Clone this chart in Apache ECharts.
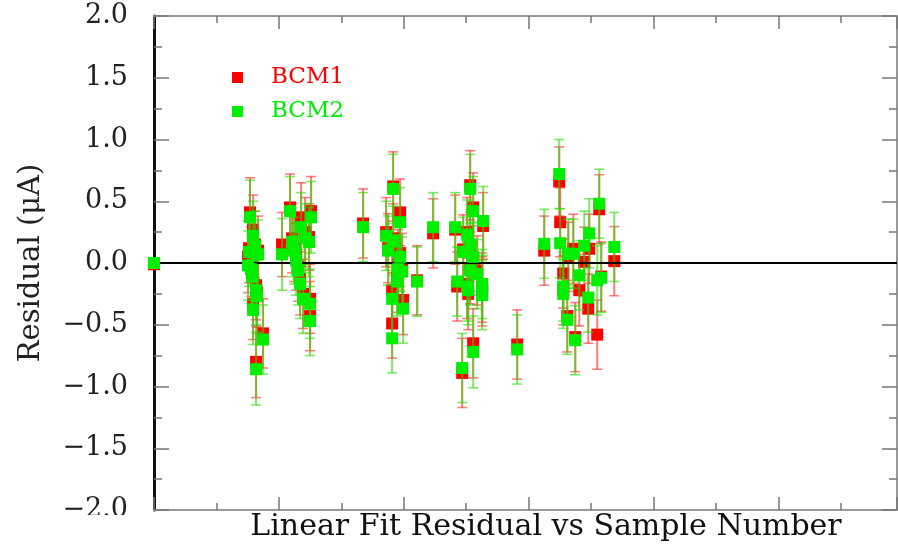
<!DOCTYPE html>
<html>
<head>
<meta charset="utf-8">
<script src="https://cdn.jsdelivr.net/npm/echarts@6/dist/echarts.min.js"></script>
<style>html,body{margin:0;padding:0;background:#fff}#c{width:898px;height:547px}</style>
</head>
<body>
<div id="c"></div>
<script>
const sampleNo = [
  0, 15.06, 15.38, 15.87, 16.19, 16.67, 15.71, 16.35, 16.51, 15.87, 17.47, 16.35, 15.22, 15.54,
  20.51, 21.79, 22.12, 22.44, 23.56, 23.08, 23.40, 23.88, 25.16, 24.84, 25.00, 25.00, 22.76, 24.20,
  33.49, 38.30, 39.42, 37.18, 38.30, 37.50, 39.42, 39.10, 39.74, 38.94, 38.14, 39.90, 38.14, 42.15, 44.71,
  48.24, 48.56, 50.64, 51.12, 52.72, 50.16, 50.64, 49.52, 51.12, 50.64, 51.76, 50.16, 52.56, 50.32, 52.56, 51.12, 49.36, 58.17,
  62.50, 64.90, 65.06, 65.54, 65.54, 66.19, 66.35, 67.15, 67.47, 68.11, 68.91, 69.71, 69.55, 70.99, 71.31, 71.63, 73.72
];
const bcm1 = [
  -0.01, 0.05, 0.41, 0.27, 0.15, 0.10, -0.08, -0.18, -0.24, -0.33, -0.57, -0.80, 0.12, 0.01,
  0.15, 0.45, 0.20, 0.12, 0.37, -0.03, -0.13, -0.25, 0.42, 0.21, -0.29, -0.43, 0.05, 0.25,
  0.32, 0.62, 0.41, 0.25, 0.20, 0.12, 0.08, -0.01, -0.04, -0.12, -0.22, -0.30, -0.49, -0.14, 0.24,
  0.27, -0.19, 0.63, 0.45, 0.30, 0.25, 0.13, 0.11, 0.02, -0.04, -0.06, -0.17, -0.20, -0.25, -0.23, -0.65, -0.89, -0.66,
  0.10, 0.66, 0.33, -0.085, -0.22, -0.43, 0.05, 0.115, -0.60, -0.22, 0.01, 0.115, -0.37, -0.58, 0.435, -0.11, 0.015
];
const bcm2 = [
  0.00, -0.02, 0.37, 0.22, 0.14, 0.07, -0.11, -0.22, -0.27, -0.38, -0.62, -0.86, 0.09, -0.05,
  0.07, 0.42, 0.17, 0.10, 0.29, -0.06, -0.17, -0.29, 0.37, 0.17, -0.33, -0.47, 0.02, 0.20,
  0.29, 0.60, 0.33, 0.22, 0.18, 0.10, 0.05, -0.05, -0.07, -0.15, -0.29, -0.37, -0.61, -0.15, 0.29,
  0.29, -0.15, 0.60, 0.42, 0.34, 0.23, 0.15, 0.09, 0.05, -0.06, -0.09, -0.19, -0.17, -0.22, -0.26, -0.72, -0.85, -0.70,
  0.155, 0.72, 0.16, -0.19, -0.25, -0.46, 0.075, 0.075, -0.625, -0.10, 0.14, 0.24, -0.28, -0.14, 0.48, -0.12, 0.13
];
const bcm1Err = [
  0, 0.29, 0.28, 0.28, 0.27, 0.28, 0.29, 0.28, 0.28, 0.29, 0.28, 0.29, 0.28, 0.28,
  0.26, 0.27, 0.28, 0.27, 0.28, 0.28, 0.29, 0.28, 0.28, 0.27, 0.28, 0.28, 0.27, 0.28,
  0.28, 0.28, 0.27, 0.28, 0.28, 0.28, 0.27, 0.28, 0.28, 0.28, 0.29, 0.28, 0.28, 0.28, 0.28,
  0.28, 0.28, 0.28, 0.28, 0.27, 0.28, 0.28, 0.28, 0.28, 0.29, 0.28, 0.28, 0.28, 0.29, 0.28, 0.28, 0.28, 0.28,
  0.28, 0.28, 0.28, 0.28, 0.28, 0.29, 0.28, 0.28, 0.28, 0.29, 0.28, 0.28, 0.28, 0.28, 0.28, 0.28, 0.28
];
const bcm2Err = [
  0, 0.28, 0.30, 0.28, 0.28, 0.28, 0.28, 0.28, 0.29, 0.28, 0.28, 0.29, 0.28, 0.28,
  0.29, 0.28, 0.28, 0.27, 0.28, 0.28, 0.28, 0.28, 0.29, 0.28, 0.28, 0.28, 0.28, 0.28,
  0.28, 0.28, 0.28, 0.28, 0.28, 0.28, 0.28, 0.28, 0.28, 0.28, 0.28, 0.28, 0.28, 0.28, 0.28,
  0.28, 0.28, 0.28, 0.28, 0.28, 0.28, 0.28, 0.28, 0.28, 0.28, 0.28, 0.28, 0.28, 0.28, 0.28, 0.29, 0.28, 0.28,
  0.28, 0.28, 0.28, 0.28, 0.28, 0.28, 0.28, 0.28, 0.28, 0.28, 0.28, 0.28, 0.28, 0.28, 0.28, 0.28, 0.28
];
const yTicks = { min: -2, max: 2, step: 0.5 };
const xRange = { min: 0, max: 119, step: 20 };

const FONT = 'DejaVu Serif';
const RED = '#ff0000', GREEN = '#00ee00';

function errRender(color) {
  return function (params, api) {
    const x = api.value(0), y = api.value(1), e = api.value(2);
    const t = api.coord([x, y + e]), b = api.coord([x, y - e]);
    const hw = 5;
    const st = { stroke: color, lineWidth: 1.6 };
    return { type: 'group', children: [
      { type: 'line', shape: { x1: t[0], y1: t[1], x2: b[0], y2: b[1] }, style: { stroke: color, lineWidth: 2 } },
      { type: 'line', shape: { x1: t[0] - hw, y1: t[1], x2: t[0] + hw, y2: t[1] }, style: st },
      { type: 'line', shape: { x1: b[0] - hw, y1: b[1], x2: b[0] + hw, y2: b[1] }, style: st }
    ]};
  };
}

const d1 = sampleNo.map((x, i) => [x, bcm1[i], bcm1Err[i]]);
const d2 = sampleNo.map((x, i) => [x, bcm2[i], bcm2Err[i]]);

const xAxisBase = {
  type: 'value', min: xRange.min, max: xRange.max, interval: xRange.step,
  axisLine: { onZero: false, lineStyle: { color: '#999', width: 2 } },
  axisTick: { inside: true, length: 13, lineStyle: { color: '#777', width: 1.5 } },
  minorTick: { show: true, splitNumber: 2, length: 7, lineStyle: { color: '#777', width: 1.5 } },
  axisLabel: { show: false }, splitLine: { show: false }
};
const yAxisBase = {
  type: 'value', min: yTicks.min, max: yTicks.max, interval: yTicks.step,
  axisLine: { onZero: false, lineStyle: { color: '#999', width: 2 } },
  axisTick: { inside: true, length: 15, lineStyle: { color: '#777', width: 1.5 } },
  minorTick: { show: true, splitNumber: 2, length: 8, lineStyle: { color: '#777', width: 1.5 } },
  splitLine: { show: false }
};

const chart = echarts.init(document.getElementById('c'), null, { renderer: 'canvas' });
chart.setOption({
  animation: false,
  backgroundColor: '#fff',
  grid: { left: 154, right: 1, top: 16, bottom: 32 },
  xAxis: [
    Object.assign({}, xAxisBase, {
      position: 'bottom',
      name: 'Linear Fit Residual vs Sample Number', nameLocation: 'middle', nameGap: 2,
      nameTextStyle: { fontFamily: FONT, fontSize: 30, color: '#111', padding: [0, 0, 0, 41] }
    }),
    Object.assign({}, xAxisBase, { position: 'top' })
  ],
  yAxis: [
    Object.assign({}, yAxisBase, {
      position: 'left',
      axisLine: { onZero: false, lineStyle: { color: '#111', width: 3 } },
      axisLabel: { fontFamily: FONT, fontSize: 27, color: '#222', margin: 26,
        formatter: v => (v < 0 ? '\u2212' + Math.abs(v).toFixed(1) : v.toFixed(1)) },
      name: 'Residual (\u03bcA)', nameLocation: 'middle', nameRotate: 90, nameGap: 108,
      nameTextStyle: { fontFamily: FONT, fontSize: 29, color: '#222' }
    }),
    Object.assign({}, yAxisBase, { position: 'right', axisLabel: { show: false } })
  ],
  legend: {
    data: [
      { name: 'BCM1', textStyle: { color: RED } },
      { name: 'BCM2', textStyle: { color: GREEN } }
    ],
    orient: 'vertical', left: 227, top: 61, itemWidth: 11, itemHeight: 11, itemGap: 11,
    icon: 'rect',
    formatter: n => '{g|}' + n,
    textStyle: { fontFamily: FONT, fontSize: 23, rich: { g: { width: 23 } } }
  },
  graphic: [
    { type: 'rect', left: 0, top: 515, shape: { width: 150, height: 32 }, style: { fill: '#fff' }, z: 100 }
  ],
  series: [
    { name: 'BCM1 err', type: 'custom', data: d1, renderItem: errRender('rgba(255,40,40,0.6)'), z: 2,
      markLine: { silent: true, symbol: 'none', label: { show: false },
        lineStyle: { color: '#000', width: 2, type: 'solid' }, data: [{ yAxis: 0 }] } },
    { name: 'BCM1', type: 'scatter', data: d1.map(p => [p[0], p[1]]), symbol: 'rect', symbolSize: 12,
      itemStyle: { color: RED, opacity: 1 }, z: 3 },
    { name: 'BCM2 err', type: 'custom', data: d2, renderItem: errRender('rgba(40,220,0,0.6)'), z: 4 },
    { name: 'BCM2', type: 'scatter', data: d2.map(p => [p[0], p[1]]), symbol: 'rect', symbolSize: 12,
      itemStyle: { color: GREEN, opacity: 1 }, z: 5 }
  ]
});
</script>
</body>
</html>
